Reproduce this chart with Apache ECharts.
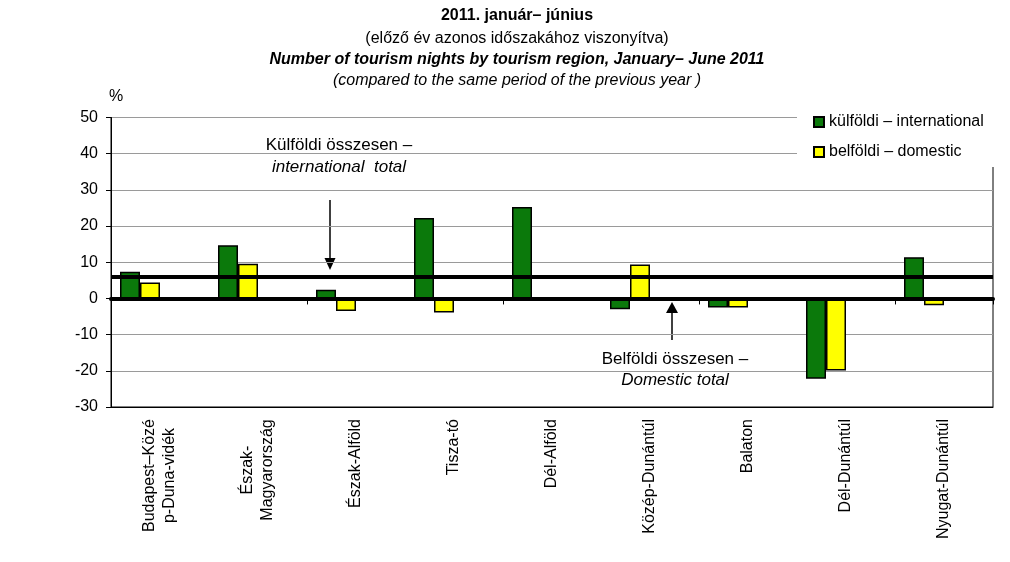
<!DOCTYPE html>
<html>
<head>
<meta charset="utf-8">
<script src="https://cdn.jsdelivr.net/npm/echarts@6/dist/echarts.min.js"></script>
<style>
  html, body { margin: 0; padding: 0; background: #fff; }
  #main { width: 1010px; height: 562px; }
</style>
</head>
<body>
<div id="main"></div>
<script>
// régiók (categories)
const regions = [
    'Budapest–Közé\np-Duna-vidék',
    'Észak-\nMagyarország',
    'Észak-Alföld',
    'Tisza-tó',
    'Dél-Alföld',
    'Közép-Dunántúl',
    'Balaton',
    'Dél-Dunántúl',
    'Nyugat-Dunántúl'
];
// külföldi – international, %
const international = [7.4, 14.7, 2.4, 22.2, 25.3, -3.0, -2.5, -22.2, 11.4];
// belföldi – domestic, %
const domestic = [4.4, 9.6, -3.5, -3.9, null, 9.4, -2.5, -19.9, -1.9];
// összesen (totals)
const intlTotal = 6.1;
const domTotal = 0;
const yTicks = [-30, -20, -10, 0, 10, 20, 30, 40, 50];

const FONT = "'Liberation Sans', Arial, sans-serif";

// többsoros címkék: sorok középre igazítva
const ctx = document.createElement('canvas').getContext('2d');
ctx.font = '16px ' + FONT;
const rich = {};
regions.forEach((r, i) => {
    const w = Math.max(...r.split('\n').map(l => ctx.measureText(l).width));
    rich['c' + i] = { width: Math.ceil(w), align: 'center', fontSize: 16, fontFamily: FONT, color: '#000', lineHeight: 20 };
});
function labelFmt(value, idx) {
    if (value.indexOf('\n') < 0) return value;
    const i = regions.indexOf(value);
    return value.split('\n').map(l => '{c' + i + '|' + l + '}').join('\n');
}

const myChart = echarts.init(document.getElementById('main'));
let option;

option = {
    backgroundColor: '#fff',
    textStyle: { fontFamily: FONT },
    title: [
        { text: '2011. január– június', left: 517, top: 8, textAlign: 'center', padding: 0,
          textStyle: { fontSize: 16, fontWeight: 'bold', color: '#000', fontFamily: FONT } },
        { text: '(előző év azonos időszakához viszonyítva)', left: 517, top: 31, textAlign: 'center', padding: 0,
          textStyle: { fontSize: 16, fontWeight: 'normal', color: '#000', fontFamily: FONT } },
        { text: 'Number of tourism nights by tourism region, January– June 2011', left: 517, top: 52, textAlign: 'center', padding: 0,
          textStyle: { fontSize: 16, fontWeight: 'bold', fontStyle: 'italic', color: '#000', fontFamily: FONT } },
        { text: '(compared to the same period of the previous year )', left: 517, top: 73, textAlign: 'center', padding: 0,
          textStyle: { fontSize: 16, fontWeight: 'normal', fontStyle: 'italic', color: '#000', fontFamily: FONT } }
    ],
    legend: {
        data: ['külföldi – international', 'belföldi – domestic'],
        orient: 'vertical',
        icon: 'rect',
        left: 797,
        top: 102,
        padding: [12, 20, 7, 16],
        itemWidth: 10,
        itemHeight: 10,
        itemGap: 14,
        backgroundColor: '#fff',
        textStyle: { fontSize: 16, color: '#000', fontFamily: FONT }
    },
    grid: {
        left: 111,
        right: 17,
        top: 117.5,
        bottom: 155,
        show: true,
        borderColor: '#000',
        borderWidth: 1,
        backgroundColor: 'transparent'
    },
    xAxis: [
        {
            // tengely a nulla vonalon
            type: 'category',
            data: regions,
            axisLine: { onZero: true, lineStyle: { color: '#000', width: 4 } },
            axisTick: { show: true, length: 6, lineStyle: { color: '#000', width: 1 } },
            axisLabel: { show: false }
        },
        {
            // címkék alul
            type: 'category',
            data: regions,
            position: 'bottom',
            axisLine: { onZero: false, lineStyle: { color: '#000', width: 1 } },
            axisTick: { show: false },
            axisLabel: {
                interval: 0,
                rotate: 90,
                margin: 12,
                color: '#000',
                fontSize: 16,
                fontFamily: FONT,
                lineHeight: 20,
                formatter: labelFmt,
                rich: rich
            }
        }
    ],
    yAxis: {
        type: 'value',
        min: yTicks[0],
        max: yTicks[yTicks.length - 1],
        interval: 10,
        name: '%',
        nameLocation: 'end',
        nameGap: 13,
        nameTextStyle: { fontSize: 16, color: '#000', align: 'left', padding: [0, 0, 0, -2], fontFamily: FONT },
        axisLine: { show: true, lineStyle: { color: '#000', width: 1 } },
        axisTick: { show: true, inside: false, length: 5, lineStyle: { color: '#000' } },
        axisLabel: { color: '#000', fontSize: 16, margin: 13, fontFamily: FONT },
        splitLine: { show: true, lineStyle: { color: '#9a9a9a', width: 1 } }
    },
    series: [
        {
            name: 'külföldi – international',
            type: 'bar',
            barWidth: 20,
            barGap: '0%',
            data: international,
            itemStyle: { color: '#0b790b', borderColor: '#000', borderWidth: 1.5 },
            markLine: {
                silent: true,
                symbol: 'none',
                label: { show: false },
                lineStyle: { color: '#000', width: 4, type: 'solid' },
                data: [{ yAxis: intlTotal }, { yAxis: domTotal }]
            }
        },
        {
            name: 'belföldi – domestic',
            type: 'bar',
            barWidth: 20,
            barGap: '0%',
            data: domestic,
            itemStyle: { color: '#ffff00', borderColor: '#000', borderWidth: 1.5 }
        },
        // üres helyek (Excel-ben a két összesen-sor)
        { name: 'p1', type: 'bar', barWidth: 20, barGap: '0%', data: regions.map(() => null) },
        { name: 'p2', type: 'bar', barWidth: 20, barGap: '0%', data: regions.map(() => null) }
    ],
    graphic: [
        { type: 'text', x: 339, y: 145, style: { text: 'Külföldi összesen –', font: '17px ' + FONT, fill: '#000', align: 'center', verticalAlign: 'middle' } },
        { type: 'text', x: 339, y: 167, style: { text: 'international  total', font: 'italic 17px ' + FONT, fill: '#000', align: 'center', verticalAlign: 'middle' } },
        { type: 'line', shape: { x1: 330, y1: 200, x2: 330, y2: 259 }, style: { stroke: '#000', lineWidth: 1.5 } },
        { type: 'polygon', shape: { points: [[324.5, 258], [335.5, 258], [330, 270]] }, style: { fill: '#000' } },
        { type: 'line', shape: { x1: 672, y1: 340, x2: 672, y2: 312 }, style: { stroke: '#000', lineWidth: 1.5 } },
        { type: 'polygon', shape: { points: [[666, 313], [678, 313], [672, 302]] }, style: { fill: '#000' } },
        { type: 'text', x: 675, y: 359, style: { text: 'Belföldi összesen –', font: '17px ' + FONT, fill: '#000', align: 'center', verticalAlign: 'middle' } },
        { type: 'text', x: 675, y: 380, style: { text: 'Domestic total', font: 'italic 17px ' + FONT, fill: '#000', align: 'center', verticalAlign: 'middle' } }
    ]
};
option && myChart.setOption(option);
</script>
</body>
</html>
